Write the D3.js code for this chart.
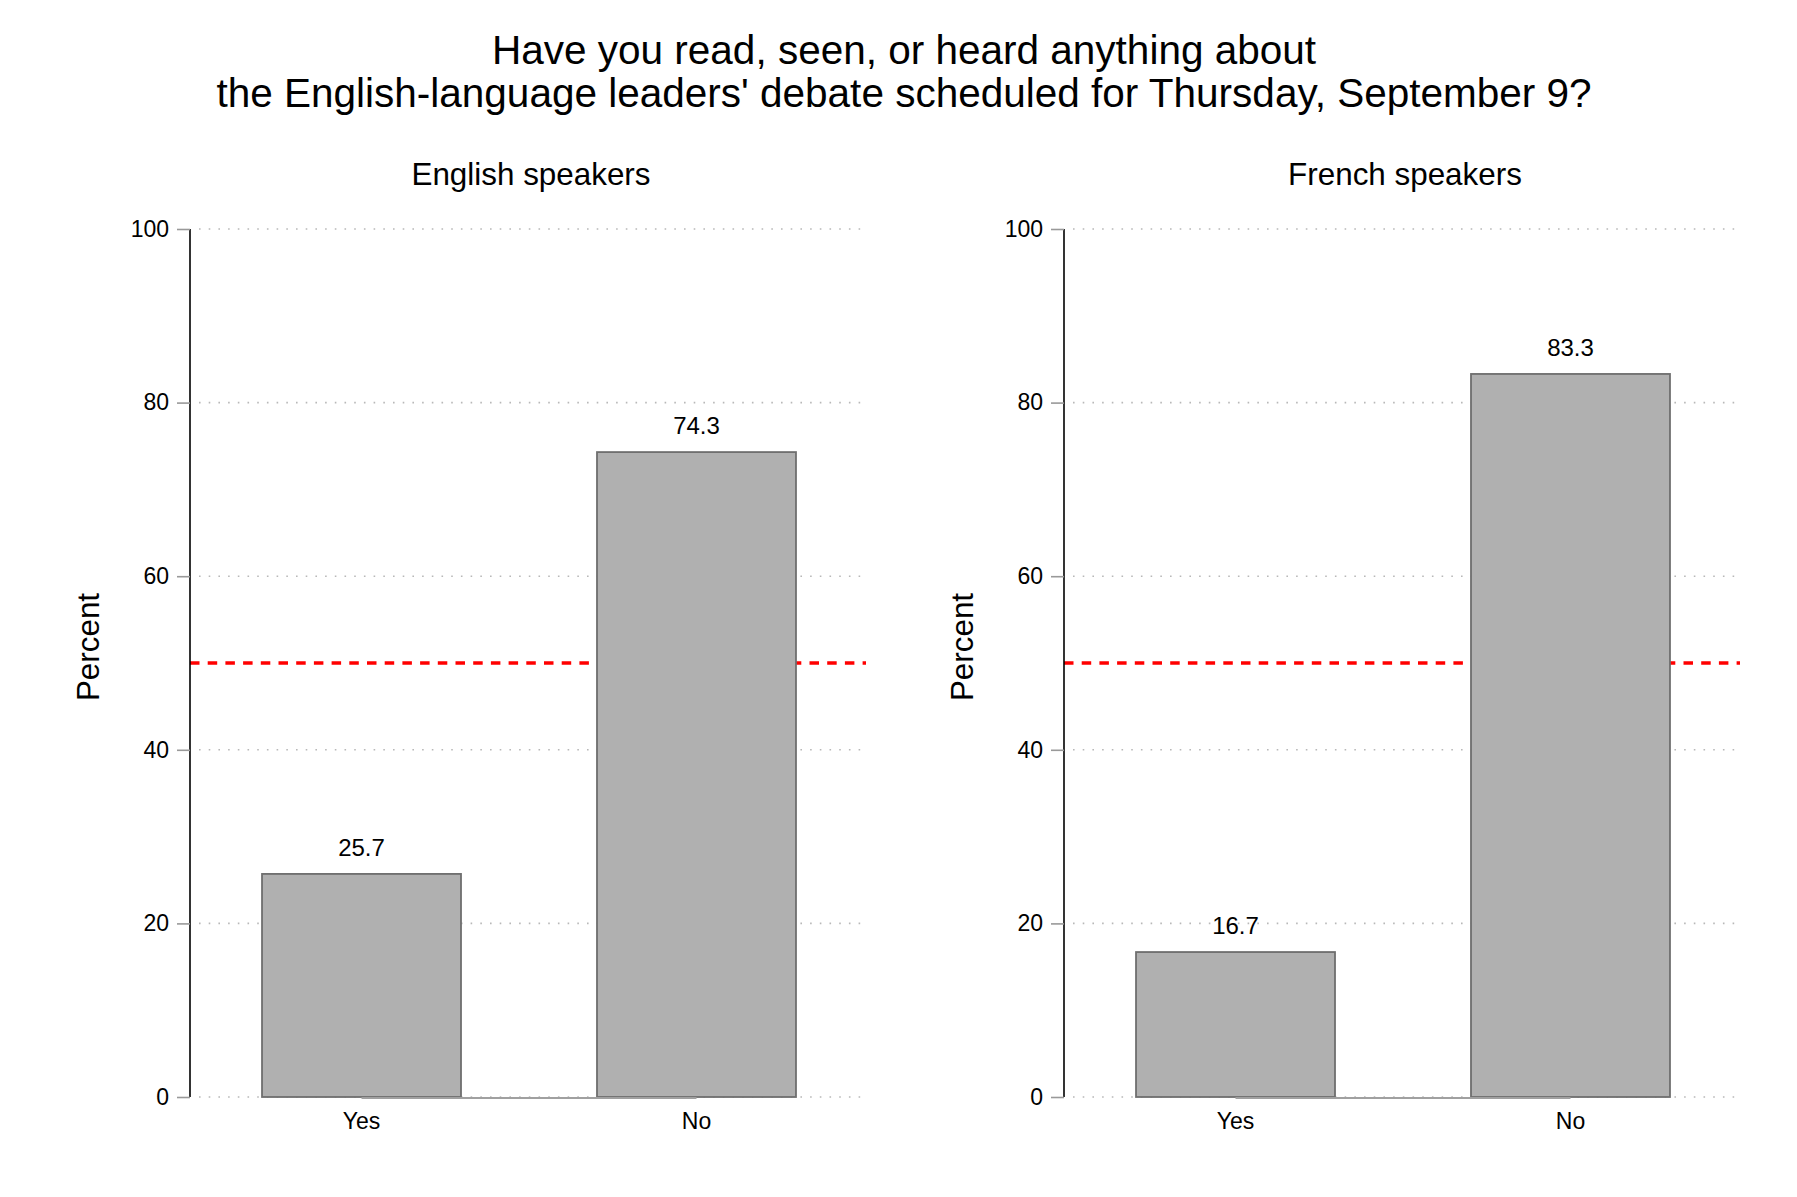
<!DOCTYPE html>
<html>
<head>
<meta charset="utf-8">
<script src="https://cdn.jsdelivr.net/npm/d3@7"></script>
<style>
  body { margin: 0; background: #fff; }
  text { font-family: Helvetica, Arial, "Liberation Sans", sans-serif; fill: #000; }
</style>
</head>
<body>
<script>
let categories = ["Yes", "No"]
let panels = ["English speakers", "French speakers"]
let englishValues = [25.7, 74.3]
let frenchValues = [16.7, 83.3]
let yTicks = [0, 20, 40, 60, 80, 100]
let refLine = 50
let titleLines = ["Have you read, seen, or heard anything about",
                  "the English-language leaders' debate scheduled for Thursday, September 9?"]

let W = 1797, H = 1197
let h = 868            // plot height (0 -> 100)
let w = 676            // plot width
let plotTop = 229
let lefts = [190, 1064]

let svg = d3.select("body").append("svg").attr("width", W).attr("height", H)

// title
svg.selectAll("text.title")
   .data(titleLines)
   .enter().append("text")
   .attr("class", "title")
   .attr("x", 904)
   .attr("y", (d, i) => 64 + i * 43)
   .attr("text-anchor", "middle")
   .style("font-size", "40.5px")
   .text(d => d)

let x = d3.scaleBand().domain(categories).range([0, 678]).paddingInner(0.406).paddingOuter(0.215)
let y = d3.scaleLinear().domain([0, 100]).range([h, 0])

let allValues = [englishValues, frenchValues]

panels.forEach((name, p) => {
    let vals = allValues[p]
    let data = categories.map((c, i) => ({cat: c, val: vals[i]}))
    let g = svg.append("g").attr("transform", "translate(" + lefts[p] + "," + plotTop + ")")

    // panel title
    g.append("text")
     .attr("x", 341).attr("y", -44)
     .attr("text-anchor", "middle")
     .style("font-size", "31.4px")
     .text(name)

    // dotted grid
    g.selectAll("line.grid")
     .data(yTicks)
     .enter().append("line")
     .attr("class", "grid")
     .attr("x1", 9).attr("x2", w - 2)
     .attr("y1", d => y(d)).attr("y2", d => y(d))
     .attr("stroke", "#b8b8b8")
     .attr("stroke-width", 1.6)
     .attr("stroke-dasharray", "1.6,8.1")

    // reference line at 50
    g.append("line")
     .attr("x1", 0).attr("x2", w)
     .attr("y1", y(refLine)).attr("y2", y(refLine))
     .attr("stroke", "#ff0000")
     .attr("stroke-width", 3.5)
     .attr("stroke-dasharray", "9.5,8.2")

    // bars
    g.selectAll("rect.bar")
     .data(data)
     .enter().append("rect")
     .attr("class", "bar")
     .attr("x", d => x(d.cat))
     .attr("y", d => y(d.val))
     .attr("width", x.bandwidth())
     .attr("height", d => y(0) - y(d.val))
     .attr("fill", "#b0b0b0")
     .attr("stroke", "#6e6e6e")
     .attr("stroke-width", 1.8)

    // x baseline between category centers
    g.append("line")
     .attr("x1", x(categories[0]) + x.bandwidth() / 2)
     .attr("x2", x(categories[categories.length - 1]) + x.bandwidth() / 2)
     .attr("y1", y(0) + 1).attr("y2", y(0) + 1)
     .attr("stroke", "#a0a0a0")
     .attr("stroke-width", 2)

    // value labels
    g.selectAll("text.val")
     .data(data)
     .enter().append("text")
     .attr("class", "val")
     .attr("x", d => x(d.cat) + x.bandwidth() / 2)
     .attr("y", d => y(d.val) - 18)
     .attr("text-anchor", "middle")
     .style("font-size", "24px")
     .text(d => d.val.toFixed(1))

    // category labels
    g.selectAll("text.cat")
     .data(categories)
     .enter().append("text")
     .attr("class", "cat")
     .attr("x", d => x(d) + x.bandwidth() / 2)
     .attr("y", y(0) + 32)
     .attr("text-anchor", "middle")
     .style("font-size", "23px")
     .text(d => d)

    // y axis
    let ax = g.append("g").attr("class", "y axis")
              .call(d3.axisLeft(y).tickValues(yTicks).tickSize(13).tickPadding(8).tickFormat(d3.format("d")))
    ax.select(".domain").attr("stroke", "#000").attr("stroke-width", 1.6).attr("d", "M0," + y(100) + "V" + y(0))
    ax.selectAll(".tick line").attr("stroke", "#999").attr("stroke-width", 1.6)
    ax.selectAll(".tick text").style("font-size", "23px").attr("fill", "#000")
      .style("font-family", "Helvetica, Arial, 'Liberation Sans', sans-serif")

    // y axis title
    g.append("text")
     .attr("transform", "translate(-91," + (647 - plotTop) + ") rotate(-90)")
     .attr("text-anchor", "middle")
     .style("font-size", "31.4px")
     .text("Percent")
})
</script>
</body>
</html>
